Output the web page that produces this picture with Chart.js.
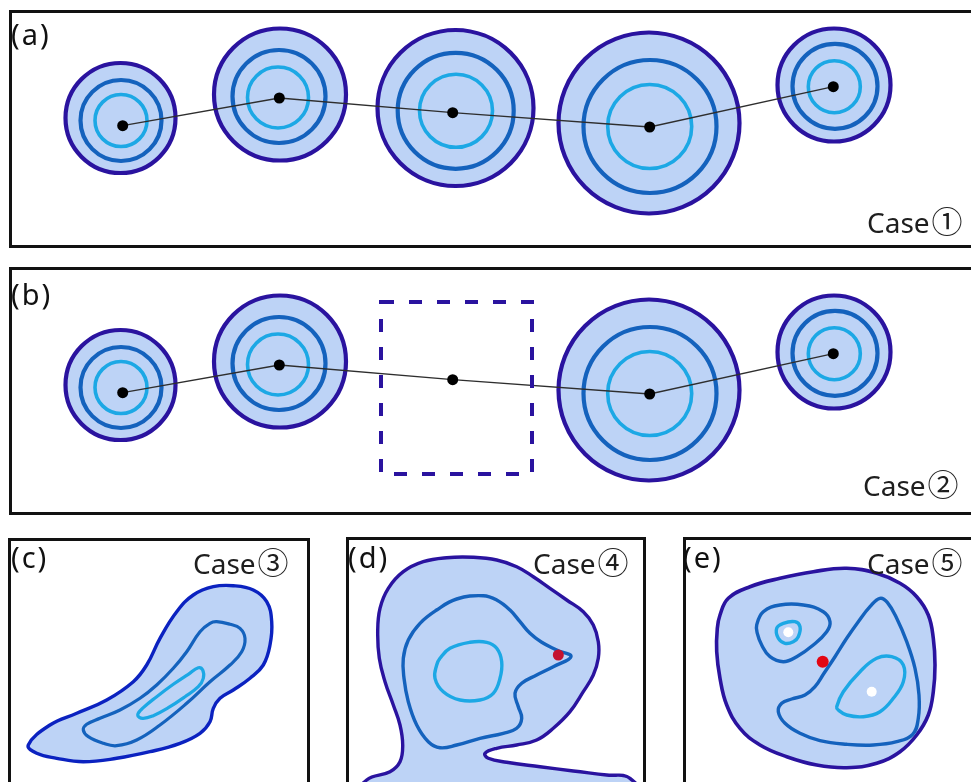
<!DOCTYPE html>
<html>
<head>
<meta charset="utf-8">
<title>Contour cases</title>
<script src="https://cdn.jsdelivr.net/npm/chart.js@4.4.1/dist/chart.umd.min.js"></script>
<style>
  html, body { margin: 0; padding: 0; background: #fff; }
  body { width: 971px; height: 782px; position: relative; overflow: hidden; }
  canvas { position: absolute; }
  .frame { position: absolute; border: 3px solid #121212; box-sizing: border-box; pointer-events: none; z-index: 2; }
  svg.labels { position: absolute; left: 0; top: 0; pointer-events: none; z-index: 3; }
  .tag { font-family: "Noto Sans", sans-serif; font-size: 29px; fill: #111; letter-spacing: 2px; }
  .case { font-family: "Noto Sans", "Noto Sans CJK SC", sans-serif; font-size: 28px; fill: #1e1e1e; }
  .num { font-family: "Noto Sans CJK SC", sans-serif; font-size: 31px; }
</style>
</head>
<body>
<canvas id="panelA" width="963" height="238" style="left:8px;top:10px"></canvas>
<canvas id="panelB" width="963" height="248" style="left:8px;top:267px"></canvas>
<canvas id="panelC" width="303" height="244" style="left:7px;top:538px"></canvas>
<canvas id="panelD" width="300" height="245" style="left:346px;top:537px"></canvas>
<canvas id="panelE" width="289" height="245" style="left:682px;top:537px"></canvas>

<div class="frame" style="left:9px;top:10px;width:1000px;height:238px"></div>
<div class="frame" style="left:9px;top:267px;width:1000px;height:248px"></div>
<div class="frame" style="left:8px;top:538px;width:302px;height:300px"></div>
<div class="frame" style="left:346px;top:537px;width:300px;height:300px"></div>
<div class="frame" style="left:683px;top:537px;width:400px;height:300px"></div>

<svg class="labels" width="971" height="782">
  <text class="tag" x="11" y="44.5">(a)</text>
  <text class="case" x="867" y="233">Case<tspan class="num" dx="2">①</tspan></text>
  <text class="tag" x="11" y="305">(b)</text>
  <text class="case" x="863" y="495.5">Case<tspan class="num" dx="2">②</tspan></text>
  <text class="tag" x="11" y="568">(c)</text>
  <text class="case" x="193" y="574">Case<tspan class="num" dx="2">③</tspan></text>
  <text class="tag" x="348" y="568">(d)</text>
  <text class="case" x="533" y="574">Case<tspan class="num" dx="2">④</tspan></text>
  <text class="tag" x="683" y="568">(e)</text>
  <text class="case" x="867" y="574">Case<tspan class="num" dx="2">⑤</tspan></text>
</svg>

<script>
// ---- Sites along the track (cases 1 and 2) ----
const siteX = [122.7, 279.3, 452.7, 649.7, 833.3];
const siteY = [125.7, 98.0, 112.7, 127.0, 86.7];

// Contour rings around each site: centre and radius
const outerX = [120.5, 280.0, 455.5, 649.0, 834.0];
const outerY = [118.0, 94.5, 108.0, 123.0, 85.0];
const outerR = [55, 66, 78, 90.5, 56.5];
const midX = [121.0, 279.0, 455.7, 650.0, 835.0];
const midY = [120.5, 96.5, 110.8, 126.5, 86.3];
const midR = [40.5, 46.5, 58, 66.5, 42.5];
const innerX = [121.0, 278.0, 456.0, 649.7, 834.3];
const innerY = [120.5, 97.5, 110.8, 126.5, 86.7];
const innerR = [26, 30.5, 36.5, 42, 26];

// Case 2: the third site has no contours, only a dashed gap
const missingSite = 2;
const gapX = [381, 532];
const gapY = [35, 207];

// ---- Case 3 contours ----
const case3Outer = [[28.3,745],[50,725],[76.7,713.3],[106.7,700],[133.3,681.7],[146.7,665],[160,638.3],[176.7,611.7],[193.3,595],[213.3,586.7],[233.3,585.7],[253.3,590],[266.7,601.7],[271.7,621.7],[270,645],[263.3,665],[250,678.3],[233.3,690],[220,698.3],[213.3,708.3],[210,721.7],[200,733.3],[180,743.3],[150,751.7],[116.7,758.3],[83.3,761.7],[56.7,758.3],[36.7,753.3]];
const case3Mid = [[210,623.3],[200,631.7],[186.7,651.7],[173.3,668.3],[156.7,685],[140,698.3],[120,710],[100,718.3],[86.7,724.3],[83.3,730],[88.3,736.7],[103.3,743.3],[116.7,745.7],[136.7,740],[160,725],[186.7,703.3],[210,681.7],[230,665],[241.7,651.7],[245,638.3],[240,628.3],[230,624.3],[216.7,621.7]];
const case3Inner = [[137.7,715],[143.3,707.7],[156.7,696.7],[173.3,684.3],[188.3,674.3],[198.3,667.7],[202.7,670],[203.3,678.3],[198.3,686.7],[185,696.7],[168.3,707.7],[153.3,715.7],[142.7,718.3]];

// ---- Case 4 contours (outer one runs past the lower edge) ----
const case4Outer = [[366.7,780],[390,771.7],[400,761.7],[402.7,745],[400,725],[393.3,705],[385,681.7],[379.3,658.3],[377.7,631.7],[380,608.3],[388.3,588.3],[403.3,571.7],[423.3,561.7],[446.7,557.7],[473.3,557.3],[496.7,560],[516.7,566.7],[533.3,576.7],[550,588.3],[566.7,600],[583.3,611.7],[593.3,625],[598.3,641.7],[598.3,658.3],[593.3,675],[583.3,691.7],[570,711.7],[553.3,728.3],[536.7,740],[516.7,745],[496.7,748.3],[485,753.3],[488.3,758.3],[506.7,762.3],[540,766.7],[573.3,771],[606.7,775],[630,778.3],[645,805],[350,805]];
const case4Mid = [[483.3,595.7],[456.7,599],[436.7,610],[420,623.3],[408.3,640],[403.3,658.3],[404,678.3],[408.3,701.7],[416.7,725],[428.3,741.7],[440,747.7],[456.7,745],[480,738.3],[503.3,733.3],[516.7,728.3],[521.7,718.3],[518.3,706.7],[515,693.3],[521.7,683.3],[536.7,675],[553.3,666.7],[571,656.7],[556.7,650],[541.7,642.3],[530,633.3],[520,621.7],[510,610],[496.7,600]];
const case4Inner = [[440,658.3],[450,648.3],[470,642.3],[486.7,642.3],[496.7,648.3],[501.7,661.7],[500,678.3],[493.3,693.3],[480,700],[460,700],[443.3,691.7],[435,678.3],[436.7,665]];
const case4Saddle = [[558.3,655]];

// ---- Case 5 contours ----
const case5Outer = [[720,615],[728.3,598.3],[750,586.7],[780,578.3],[813.3,571.7],[846.7,568.3],[876.7,573.3],[900,583.3],[916.7,596.7],[928.3,615],[933.3,638.3],[935,665],[933.3,691.7],[928.3,715],[916.7,735],[900,751.7],[876.7,763.3],[846.7,767.7],[816.7,765],[786.7,756.7],[760,745],[740,728.3],[726.7,705],[720,678.3],[716.7,651.7],[717.3,628.3]];
const case5MidLeft = [[756.7,625],[763.3,611.7],[780,605],[803.3,605],[823.3,611.7],[830,621.7],[826.7,631.7],[813.3,645],[796.7,656.7],[783.3,661.7],[770,656.7],[761.7,645],[757.3,633.3]];
const case5MidRight = [[880,598.3],[870,606.7],[858.3,621.7],[846.7,638.3],[835,656.7],[824,673.3],[815,686.7],[805,695],[791.7,699],[781.7,703.3],[778.3,711.7],[785,723.3],[800,733.3],[820,740.7],[846.7,744.3],[873.3,745],[896.7,741.7],[912.7,734.3],[918.3,718.3],[919,695],[915,668.3],[906.7,641.7],[896.7,618.3],[887.3,602.3]];
const case5InnerLeft = [[776.7,628.3],[783.3,623.3],[795,621.7],[800,626.7],[798.3,636.7],[793.3,641.7],[785,643.3],[778.3,638.3]];
const case5InnerRight = [[836.7,706.7],[843.3,691.7],[860,671.7],[876.7,658.3],[891.7,656.7],[903.3,665],[903.3,681.7],[893.3,698.3],[880,711.7],[863.3,716.7],[846.7,715],[838.3,710]];
const case5Peaks = [[788.3,632.3],[871.7,691.7]];
const case5Saddle = [[822.7,661.7]];

// ---- Styling ----
const FILL = '#bdd3f6';
const INDIGO = '#2a139f';
const ROYAL = '#0b22c0';
const MID = '#1462bd';
const LIGHT = '#1ca8e5';

// Closed contours: let the line element wrap around so the curve is smooth everywhere
const closedLoop = {
  id: 'closedLoop',
  afterDatasetUpdate(chart, args) {
    const ds = chart.data.datasets[args.index];
    if (ds && ds.closed && args.meta.dataset) {
      args.meta.dataset._loop = true;
      args.meta.dataset._fullLoop = true;
    }
  }
};

const toPoints = list => list.map(([x, y]) => ({x, y}));

function makeChart(id, win, datasets) {
  return new Chart(document.getElementById(id), {
    type: 'scatter',
    data: { datasets },
    options: {
      responsive: false,
      animation: false,
      events: [],
      layout: { padding: 0, autoPadding: false },
      plugins: { legend: { display: false }, tooltip: { enabled: false }, colors: { enabled: false } },
      scales: {
        x: { type: 'linear', display: false, min: win.x0, max: win.x1 },
        y: { type: 'linear', display: false, reverse: true, min: win.y0, max: win.y1 }
      }
    },
    plugins: [closedLoop]
  });
}

function rings(xs, ys, rs, keep, color, width, fill, order) {
  const idx = xs.map((_, i) => i).filter(keep);
  return {
    data: idx.map(i => ({x: xs[i], y: ys[i]})),
    pointRadius: idx.map(i => rs[i]),
    pointStyle: 'circle',
    pointBorderWidth: width,
    pointBorderColor: color,
    pointBackgroundColor: fill,
    borderColor: color,
    backgroundColor: fill,
    showLine: false,
    clip: false,
    order
  };
}

function contour(list, color, width, fill, order, extra) {
  return Object.assign({
    data: toPoints(list),
    closed: true,
    showLine: true,
    spanGaps: true,
    pointRadius: 0,
    borderColor: color,
    borderWidth: width,
    backgroundColor: fill || 'rgba(0,0,0,0)',
    fill: fill ? 'shape' : false,
    tension: 0.42,
    borderJoinStyle: 'round',
    clip: false,
    order
  }, extra || {});
}

function dots(list, color, radius, order) {
  return {
    data: toPoints(list),
    pointRadius: radius,
    pointBorderWidth: 0,
    pointBackgroundColor: color,
    pointBorderColor: color,
    borderColor: color,
    backgroundColor: color,
    showLine: false,
    clip: false,
    order
  };
}

function trackPanel(id, win, withGap) {
  const keep = i => !(withGap && i === missingSite);
  const sites = siteX.map((x, i) => [x, siteY[i]]);
  const ds = [
    rings(outerX, outerY, outerR, keep, INDIGO, 4.2, FILL, 6),
    rings(midX, midY, midR, keep, MID, 4.2, 'rgba(0,0,0,0)', 5),
    rings(innerX, innerY, innerR, keep, LIGHT, 3.6, 'rgba(0,0,0,0)', 4),
    {
      data: toPoints(sites),
      showLine: true,
      pointRadius: 0,
      borderColor: '#2e2e2e',
      borderWidth: 1.3,
      tension: 0,
      clip: false,
      order: 3
    },
    dots(sites, '#000', 5.5, 1)
  ];
  if (withGap) {
    ds.push(contour(
      [[gapX[0], gapY[0]], [gapX[1], gapY[0]], [gapX[1], gapY[1]], [gapX[0], gapY[1]]],
      INDIGO, 4, null, 2, { tension: 0, borderDash: [13, 15], borderJoinStyle: 'miter', borderCapStyle: 'butt' }
    ));
  }
  return makeChart(id, win, ds);
}

// Case 1: all five sites
trackPanel('panelA', { x0: 8, x1: 971, y0: 10, y1: 248 }, false);
// Case 2: same track, third site replaced by a gap
trackPanel('panelB', { x0: 8, x1: 971, y0: 0, y1: 248 }, true);

// Case 3
makeChart('panelC', { x0: 7, x1: 310, y0: 538, y1: 782 }, [
  contour(case3Outer, ROYAL, 3.4, FILL, 6),
  contour(case3Mid, MID, 3.2, null, 5),
  contour(case3Inner, LIGHT, 3.2, null, 4)
]);

// Case 4
makeChart('panelD', { x0: 346, x1: 646, y0: 537, y1: 782 }, [
  contour(case4Outer, INDIGO, 3.4, FILL, 6, { capBezierPoints: false }),
  contour(case4Mid, MID, 3.4, null, 5),
  contour(case4Inner, LIGHT, 3.4, null, 4),
  dots(case4Saddle, '#c41230', 5.5, 1)
]);

// Case 5
makeChart('panelE', { x0: 682, x1: 971, y0: 537, y1: 782 }, [
  contour(case5Outer, INDIGO, 3.6, FILL, 6),
  contour(case5MidLeft, MID, 3.4, null, 5),
  contour(case5MidRight, MID, 3.4, null, 5),
  contour(case5InnerLeft, LIGHT, 3.4, null, 4),
  contour(case5InnerRight, LIGHT, 3.4, null, 4),
  dots(case5Peaks, '#ffffff', 5, 1),
  dots(case5Saddle, '#e30613', 6, 1)
]);
</script>
</body>
</html>
